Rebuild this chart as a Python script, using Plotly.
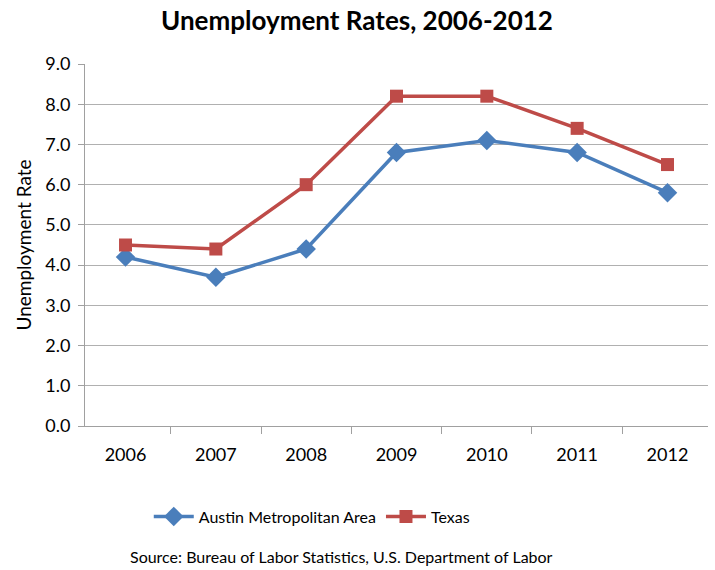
import plotly.graph_objects as go

years = ["2006", "2007", "2008", "2009", "2010", "2011", "2012"]
austin = [4.2, 3.7, 4.4, 6.8, 7.1, 6.8, 5.8]
texas = [4.5, 4.4, 6.0, 8.2, 8.2, 7.4, 6.5]
y_ticks = [0, 1, 2, 3, 4, 5, 6, 7, 8, 9]

FONT = "Lato"

fig = go.Figure()
fig.add_trace(go.Scatter(
    x=years, y=austin, name="Austin Metropolitan Area", mode="lines+markers",
    line=dict(color="#4a7ebb", width=3.5),
    marker=dict(symbol="diamond", size=15, color="#4a7ebb"),
))
fig.add_trace(go.Scatter(
    x=years, y=texas, name="Texas", mode="lines+markers",
    line=dict(color="#be4b48", width=3.5),
    marker=dict(symbol="square", size=13, color="#be4b48"),
))

fig.update_layout(
    width=715, height=570,
    margin=dict(l=85, r=7, t=64, b=144),
    paper_bgcolor="white", plot_bgcolor="white",
    font=dict(family=FONT, size=17, color="black"),
    title=dict(text="<b>Unemployment Rates, 2006-2012</b>", x=(357 / 715), xanchor="center",
               xref="container",
               y=1 - 21 / 570, yanchor="middle", font=dict(size=26, family=FONT)),
    showlegend=True,
    legend=dict(orientation="h", x=0.364, xanchor="center", y=-0.25, yanchor="middle",
                font=dict(size=16), itemwidth=40, traceorder="normal"),
    annotations=[dict(text="Source: Bureau of Labor Statistics, U.S. Department of Labor",
                      x=0.411, xref="paper", y=-0.36, yref="paper", xanchor="center",
                      yanchor="middle", showarrow=False, font=dict(size=16, family=FONT))],
)
fig.update_xaxes(
    type="category", tickson="boundaries", ticks="outside", ticklen=7,
    tickcolor="#a0a0a0", showline=True, linecolor="#a0a0a0", linewidth=1,
    showgrid=False, tickfont=dict(size=18), ticklabelstandoff=12,
)
fig.update_yaxes(
    range=[0, 9], tickvals=y_ticks, tickformat=".1f", ticks="outside", ticklen=6,
    tickcolor="#a0a0a0", showline=True, linecolor="#a0a0a0", linewidth=1,
    showgrid=True, gridcolor="#b0b0b0", gridwidth=1, zeroline=False,
    title=dict(text="Unemployment Rate", font=dict(size=19), standoff=8),
    tickfont=dict(size=18), ticklabelstandoff=4,
)
fig.write_html("out.html")
